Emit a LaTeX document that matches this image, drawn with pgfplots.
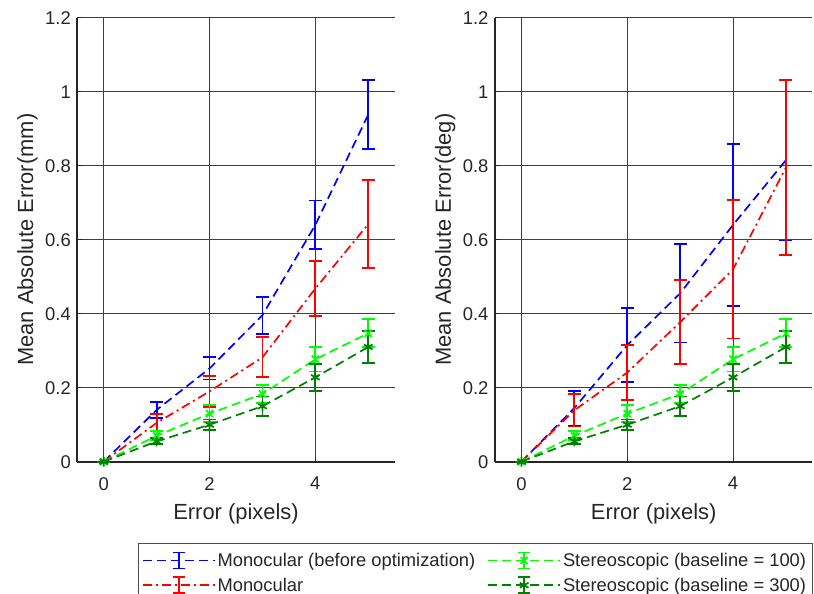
\documentclass[border=0pt]{standalone}
\usepackage{pgfplots}
\pgfplotsset{compat=1.18}
\usepackage{pgfplotstable}
\usepackage{fontspec}
\setmainfont{Liberation Sans}
\definecolor{txt}{HTML}{262626}
\definecolor{mblue}{RGB}{0,0,255}
\definecolor{mred}{RGB}{255,0,0}
\definecolor{mgreen}{RGB}{0,255,0}
\definecolor{mdkgreen}{RGB}{0,128,0}

% x  y  ep  em
\pgfplotstableread{
x y ep em
0 0 0 0
1 0.140 0.021 0.021
2 0.252 0.030 0.030
3 0.396 0.050 0.050
4 0.640 0.066 0.066
5 0.938 0.093 0.093
}\Lblue
\pgfplotstableread{
x y ep em
0 0 0 0
1 0.105 0.023 0.023
2 0.190 0.042 0.042
3 0.282 0.054 0.054
4 0.468 0.074 0.074
5 0.642 0.119 0.119
}\Lred
\pgfplotstableread{
x y ep em
0 0 0 0
1 0.145 0.047 0.047
2 0.315 0.100 0.100
3 0.455 0.133 0.133
4 0.640 0.219 0.219
5 0.815 0.217 0.217
}\Rblue
\pgfplotstableread{
x y ep em
0 0 0 0
1 0.139 0.044 0.044
2 0.241 0.074 0.074
3 0.377 0.114 0.114
4 0.520 0.187 0.187
5 0.795 0.237 0.237
}\Rred
\pgfplotstableread{
x y ep em
0 0 0 0
1 0.070 0.012 0.012
2 0.130 0.023 0.023
3 0.183 0.024 0.024
4 0.277 0.033 0.033
5 0.347 0.038 0.038
}\Green
\pgfplotstableread{
x y ep em
0 0 0 0
1 0.055 0.008 0.008
2 0.100 0.014 0.014
3 0.150 0.026 0.026
4 0.228 0.036 0.036
5 0.310 0.044 0.044
}\DkGreen

\pgfplotsset{
 myax/.style={
  scale only axis, width=317.4bp, height=444bp,
  xmin=-0.5, xmax=5.5, ymin=0, ymax=1.2,
  xtick={0,2,4}, ytick={0,0.2,0.4,0.6,0.8,1,1.2},
  axis x line=bottom, axis y line=left,
  axis line style={-, line width=1.6bp, black!85},
  tick align=inside, major tick length=5bp,
  tick style={black!85, line width=0.8bp},
  grid=major, major grid style={black!75, line width=0.7bp},
  ticklabel style={font=\fontsize{18.5}{20}\selectfont, text=txt},
  xticklabel style={yshift=-12bp},
  yticklabel style={xshift=-3bp},
  /pgf/number format/assume math mode=true,
  label style={font=\fontsize{22}{24}\selectfont, text=txt},
  xlabel={Error (pixels)},
  xlabel style={at={(axis description cs:0.5,0)}, anchor=north, yshift=-38.5bp},
  ylabel style={at={(axis description cs:-0.1134,0.5)}, anchor=south},
  every axis plot/.append style={line width=1.7bp},
  clip=false,
 },
 ebar/.style={error bars/.cd, y dir=both, y explicit,
   error bar style={solid, line width=1.8bp},
   error mark options={solid, rotate=90, line width=1.8bp, mark size=6.5bp}},
 bl/.style={mblue, dash pattern=on 9bp off 5bp, ebar},
 rd/.style={mred, dash pattern=on 9bp off 4bp on 2bp off 4bp, ebar},
 gr/.style={mgreen, dash pattern=on 9bp off 5bp, mark=x, mark size=5bp, mark options={solid}, ebar},
 dg/.style={mdkgreen, dash pattern=on 9bp off 5bp, mark=asterisk, mark size=5bp, mark options={solid}, ebar},
}

\begin{document}
\begin{tikzpicture}
\useasboundingbox (0,0) rectangle (814bp,594bp);
\begin{axis}[myax, at={(77.3bp,132.3bp)}, anchor=south west,
  ylabel={Mean Absolute Error(mm)}]
\addplot[bl] table[x=x,y=y,y error plus=ep,y error minus=em]{\Lblue};
\addplot[rd] table[x=x,y=y,y error plus=ep,y error minus=em]{\Lred};
\addplot[gr] table[x=x,y=y,y error plus=ep,y error minus=em]{\Green};
\addplot[dg] table[x=x,y=y,y error plus=ep,y error minus=em]{\DkGreen};
\end{axis}
\begin{axis}[myax, at={(495bp,132.3bp)}, anchor=south west,
  ylabel={Mean Absolute Error(deg)},
  legend columns=2, transpose legend,
  legend style={at={(1,-0.1824)}, anchor=north east, draw=black!70,
    line width=0.7bp, fill=white, font=\fontsize{18.4}{20}\selectfont,
    text=txt, inner xsep=4bp, inner ysep=8bp, row sep=6bp,
    /tikz/every even column/.append style={column sep=10bp},
    cells={anchor=west}},
  legend image code/.code={
    \draw[#1] (0bp,0bp) -- (72bp,0bp);
    \draw[#1,solid] (36bp,-8bp) -- (36bp,8bp) (30bp,-8bp) -- (42bp,-8bp) (30bp,8bp) -- (42bp,8bp);
    \draw[#1,solid] plot coordinates {(36bp,0bp)};
  }]
\addplot[bl] table[x=x,y=y,y error plus=ep,y error minus=em]{\Rblue};
\addlegendentry{Monocular (before optimization)}
\addplot[rd] table[x=x,y=y,y error plus=ep,y error minus=em]{\Rred};
\addlegendentry{Monocular}
\addplot[gr] table[x=x,y=y,y error plus=ep,y error minus=em]{\Green};
\addlegendentry{Stereoscopic (baseline = 100)}
\addplot[dg] table[x=x,y=y,y error plus=ep,y error minus=em]{\DkGreen};
\addlegendentry{Stereoscopic (baseline = 300)}
\end{axis}
\end{tikzpicture}
\end{document}
